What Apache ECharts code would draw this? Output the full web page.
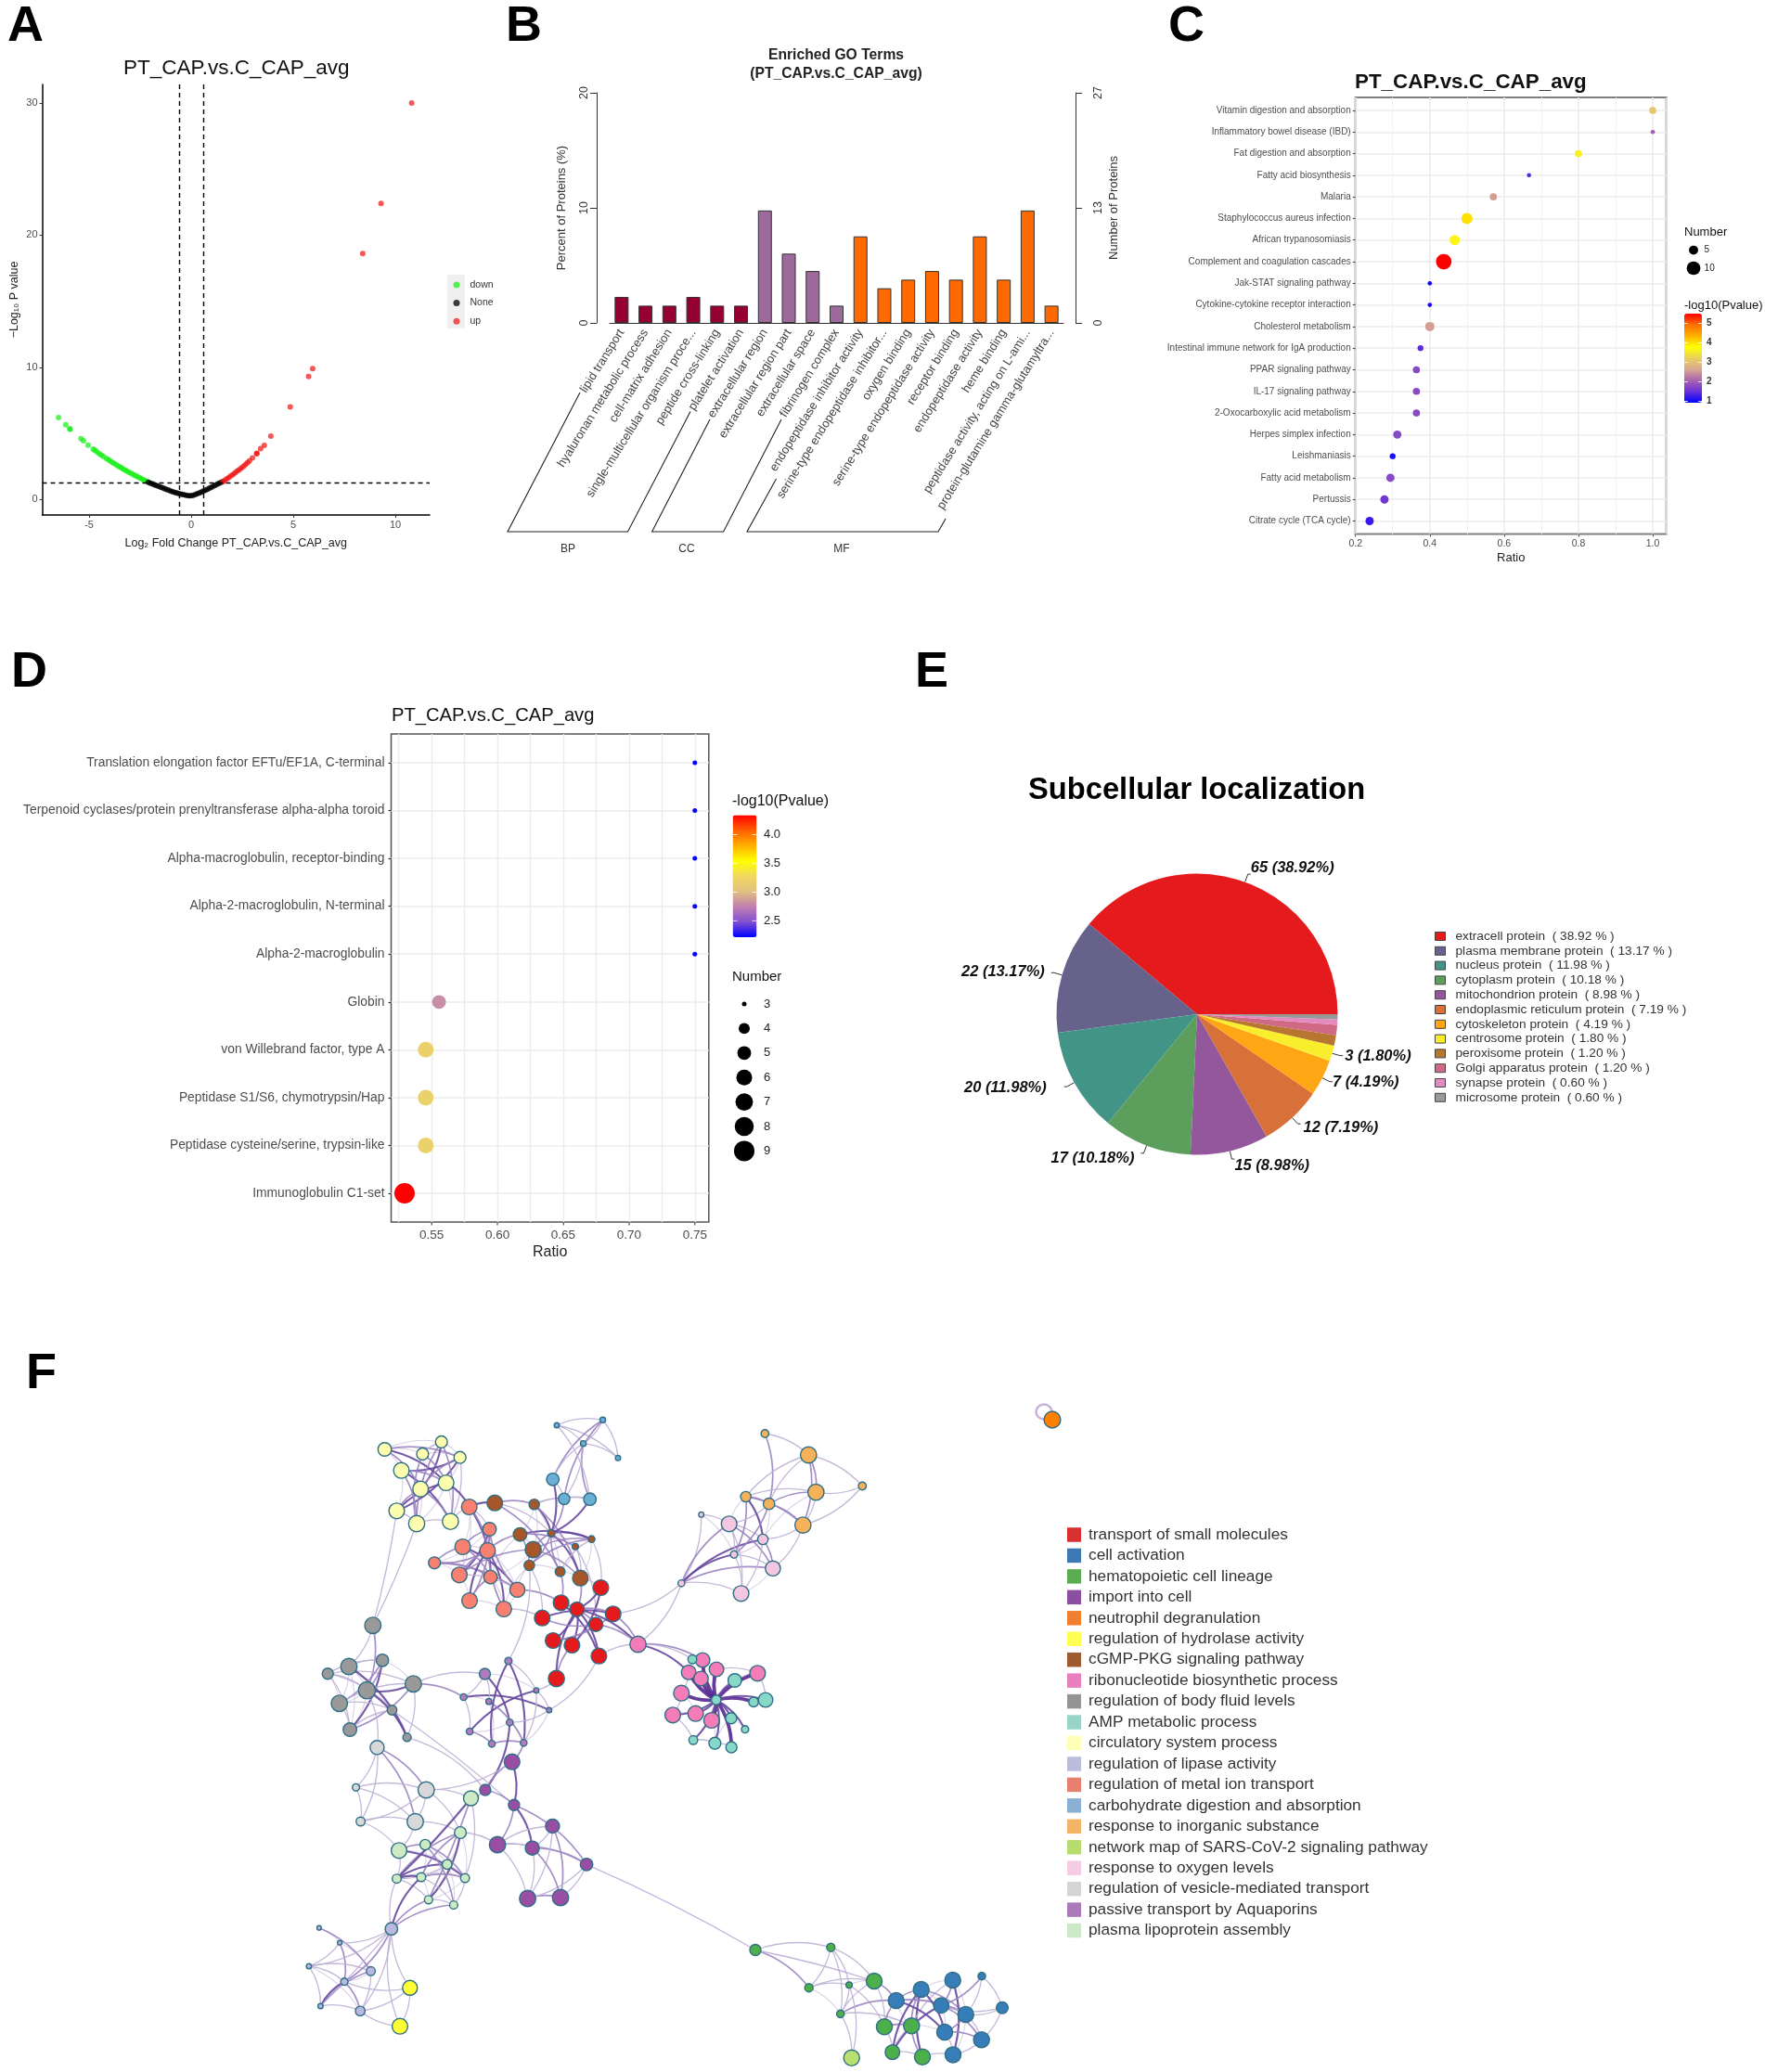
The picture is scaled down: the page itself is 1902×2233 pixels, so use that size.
<!DOCTYPE html>
<html><head><meta charset="utf-8">
<style>html,body{margin:0;padding:0;background:#fff;overflow:hidden}#c{width:1902px;height:2233px}</style>
<script src="https://cdn.jsdelivr.net/npm/echarts@6/dist/echarts.min.js"></script>
</head><body><div id="c"></div>
<script>
// ---------- Panel A: volcano
const volcanoDown=[[-6.5,6.2],[-6.15,5.65],[-5.95,5.35],[-5.93,5.3],[-5.4,4.6],[-5.28,4.45],[-5.05,4.12],[-4.8,3.82],[-4.72,3.72],[-4.62,3.6],[-4.5,3.47],[-4.4,3.35],[-4.3,3.25],[-4.15,3.1],[-4.05,3.0],[-3.95,2.9],[-3.85,2.8],[-3.75,2.7],[-3.65,2.6],[-3.55,2.5],[-3.45,2.42],[-3.35,2.33],[-3.25,2.24],[-3.15,2.15],[-3.05,2.06],[-2.95,1.98],[-2.85,1.9],[-2.75,1.82],[-2.65,1.74],[-2.55,1.66],[-2.45,1.58],[-2.35,1.5],[-2.25,1.42],[-2.15,1.35]];
const volcanoNone=[[-2.1,1.3],[-2.0,1.24],[-1.9,1.18],[-1.8,1.12],[-1.7,1.06],[-1.6,1.0],[-1.5,.94],[-1.4,.88],[-1.3,.82],[-1.2,.76],[-1.1,.7],[-1.0,.64],[-.9,.59],[-.8,.54],[-.7,.49],[-.6,.45],[-.5,.41],[-.4,.37],[-.3,.34],[-.2,.31],[-.1,.29],[0,.28],[.1,.32],[.2,.38],[.3,.44],[.4,.5],[.5,.56],[.6,.63],[.7,.7],[.8,.78],[.9,.86],[1,.94],[1.1,1.02],[1.2,1.1],[1.3,1.18],[1.4,1.26],[1.5,1.32]];
const volcanoUp=[[1.55,1.36],[1.65,1.46],[1.75,1.57],[1.85,1.68],[1.95,1.79],[2.05,1.9],[2.15,2.02],[2.25,2.14],[2.35,2.26],[2.45,2.38],[2.55,2.5],[2.65,2.64],[2.75,2.78],[2.85,2.92],[3.0,3.15],[3.2,3.47],[3.22,3.5],[3.4,3.85],[3.58,4.1],[3.9,4.8],[4.85,7.0],[5.75,9.3],[5.95,9.9],[8.4,18.6],[9.3,22.4],[10.8,30]];
// ---------- Panel B: GO bars
const goTerms=['lipid transport','hyaluronan metabolic process','cell-matrix adhesion','single-multicellular organism proce...','peptide cross-linking','platelet activation','extracellular region','extracellular region part','extracellular space','fibrinogen complex','endopeptidase inhibitor activity','serine-type endopeptidase inhibitor...','oxygen binding','serine-type endopeptidase activity','receptor binding','endopeptidase activity','heme binding','peptidase activity, acting on L-ami...','protein-glutamine gamma-glutamyltra...'];
const goPercent=[2.26,1.5,1.5,2.26,1.5,1.5,9.77,6.02,4.51,1.5,7.52,3.01,3.76,4.51,3.76,7.52,3.76,9.77,1.5];
const goGroup=['BP','BP','BP','BP','BP','BP','CC','CC','CC','CC','MF','MF','MF','MF','MF','MF','MF','MF','MF'];
// ---------- Panel C: KEGG bubbles
const keggNames=['Vitamin digestion and absorption','Inflammatory bowel disease (IBD)','Fat digestion and absorption','Fatty acid biosynthesis','Malaria','Staphylococcus aureus infection','African trypanosomiasis','Complement and coagulation cascades','Jak-STAT signaling pathway','Cytokine-cytokine receptor interaction','Cholesterol metabolism','Intestinal immune network for IgA production','PPAR signaling pathway','IL-17 signaling pathway','2-Oxocarboxylic acid metabolism','Herpes simplex infection','Leishmaniasis','Fatty acid metabolism','Pertussis','Citrate cycle (TCA cycle)'];
const keggRatio=[1,1,.8,.667,.571,.5,.467,.4375,.4,.4,.4,.375,.364,.364,.364,.3125,.3,.294,.278,.238];
const keggNumber=[4,2,4,2,4,8,7,14,2,2,6,3,4,4,4,5,3,5,5,5];
const keggLogP=[3.05,2.0,3.6,1.4,2.55,4.0,3.65,5.5,1.0,1.0,2.55,1.4,1.75,1.75,1.75,1.75,1.05,1.75,1.55,1.2];
// ---------- Panel D: domain bubbles
const domainNames=['Translation elongation factor EFTu/EF1A, C-terminal','Terpenoid cyclases/protein prenyltransferase alpha-alpha toroid','Alpha-macroglobulin, receptor-binding','Alpha-2-macroglobulin, N-terminal','Alpha-2-macroglobulin','Globin','von Willebrand factor, type A','Peptidase S1/S6, chymotrypsin/Hap','Peptidase cysteine/serine, trypsin-like','Immunoglobulin C1-set'];
const domainRatio=[.75,.75,.75,.75,.75,.5556,.5455,.5455,.5455,.5294];
const domainNumber=[3,3,3,3,3,5,6,6,6,9];
const domainLogP=[2.22,2.22,2.22,2.22,2.22,2.8,3.2,3.2,3.2,4.34];
// ---------- Panel E: pie
const locNames=['extracell protein','plasma membrane protein','nucleus protein','cytoplasm protein','mitochondrion protein','endoplasmic reticulum protein','cytoskeleton protein','centrosome protein','peroxisome protein','Golgi apparatus protein','synapse protein','microsome protein'];
const locCount=[65,22,20,17,15,12,7,3,2,2,1,1];
const locPercent=['38.92','13.17','11.98','10.18','8.98','7.19','4.19','1.80','1.20','1.20','0.60','0.60'];
const locColors=['#e41a1c','#66628c','#419486','#5c9e5c','#93589c','#d8703a','#ffa615','#f8ee2e','#b87730','#d06a84','#e58ac0','#999999'];
// ---------- Panel F: network (x, y, diameter)
const termNames=['transport of small molecules','cell activation','hematopoietic cell lineage','import into cell','neutrophil degranulation','regulation of hydrolase activity','cGMP-PKG signaling pathway','ribonucleotide biosynthetic process','regulation of body fluid levels','AMP metabolic process','circulatory system process','regulation of lipase activity','regulation of metal ion transport','carbohydrate digestion and absorption','response to inorganic substance','network map of SARS-CoV-2 signaling pathway','response to oxygen levels','regulation of vesicle-mediated transport','passive transport by Aquaporins','plasma lipoprotein assembly'];
const termNodeColors=['#e41a1c','#377eb8','#4daf4a','#984ea3','#ff7f00','#ffff33','#a65628','#f47cb8','#999999','#88d8c8','#fdfdb0','#b8b8e0','#f88070','#6baed6','#f6b25a','#b8e070','#f4c6e0','#d8d8d8','#b07cc0','#ccebc5'];
const termSwatchColors=['#d83030','#3d7ab5','#5aad50','#8a4fa0','#f08030','#ffff55','#a05a30','#e880c0','#949494','#98d4c8','#ffffb8','#bcbcdc','#e88070','#8ab0d4','#f4b468','#b8dc70','#f4cce4','#d4d4d4','#ac7ab8','#cce8c8'];
const nodesR=[[647.5,1711,15],[604.6,1727.3,15],[621.8,1734.3,14],[660.7,1739.3,15],[584.3,1743.7,15],[642.1,1750.7,13.5],[596,1768,15],[616.4,1773,15],[645.4,1784.7,15],[599.6,1809,15.5]];
const nodesE=[[965.7,2156,15.3],[992.7,2144,15.3],[1026.7,2134,15.3],[1058,2129.7,7.3],[1014.3,2161.3,14.7],[1040.7,2171,15.3],[1080,2163.7,11.3],[1018,2190,15.3],[1057.7,2198.2,15.3],[1027,2214.4,15.3]];
const nodesH=[[814,2101.5,10.7],[895.3,2098.7,8],[871.7,2142.2,8],[915,2139.3,6],[942,2135,15.3],[905.7,2170.4,7.3],[953,2184.3,15.3],[982.3,2183.3,15.3],[961.7,2211.6,14],[994,2216.8,15.3]];
const nodesI=[[551.8,1898.7,15],[522.9,1929,10.7],[553.9,1945.3,10.7],[595.4,1968,13.5],[536.1,1988,15.7],[573.6,1991.7,13.5],[632.1,2009.3,12],[568.6,2046,15.7],[604,2045,15.7]];
const nodesU=[[1134,1530,16]];
const nodesW=[[441.8,2142.3,14.3],[431,2183.7,15]];
const nodesB=[[533.2,1619.7,15],[575.7,1621.3,10],[560.4,1653.7,13],[594,1652.3,7],[637.5,1658.7,6.5],[574.6,1670,15.5],[620,1666.7,6],[570.4,1687,10],[603.6,1693.7,9.5],[625.4,1700.7,15]];
const nodesP=[[687.5,1772,15.5],[757.1,1789,14],[742.1,1802.3,14],[772.1,1799,14],[755.4,1809,14],[816.4,1803.3,15],[734.3,1824.7,15],[725,1848.3,15],[749.6,1846.7,15],[766.8,1854,15]];
const nodesG=[[401.8,1751.7,15.7],[353.2,1803.7,10.7],[376,1796,15.7],[412.1,1789.3,12],[445.4,1814.7,15.7],[395.4,1821.7,16.4],[365.7,1835.7,15.7],[422.5,1843,9.3],[377.1,1864,13],[438.6,1872.3,8]];
const nodesT=[[746.1,1788.3,8.5],[791.8,1811,13],[771.8,1832,9.3],[812.1,1834.3,9.3],[825,1832,14],[787.9,1851.7,10.7],[802.9,1863.7,7],[747.1,1875.3,8.5],[770.4,1878.7,11.5],[788.2,1883,10.7]];
const nodesY=[[414.6,1562,13],[475.7,1554,11.5],[455.4,1567,11.5],[495.7,1570.7,11.5],[432.5,1584.7,15],[480.7,1598,15],[453.2,1604.7,15],[427.5,1628.3,15],[449,1642,15.5],[485.4,1639.7,15.5]];
const nodesL=[[421.8,2078.7,12],[343.9,2077.7,4.3],[366.1,2093.7,4.3],[332.9,2119,5],[399.6,2124.3,8.6],[371.1,2135.7,7],[345.4,2162,5],[388.2,2167.3,9.3]];
const nodesM=[[505.7,1624,15],[527.5,1648,13],[498.6,1667,15],[525.4,1671,15],[468.2,1684.3,11.5],[495,1697.3,15],[528.6,1699.7,13],[557.5,1713.3,14.5],[506,1725,15],[542.9,1734,15]];
const nodesC=[[600,1536,5],[649.6,1530.3,5.5],[628.6,1555.7,5.5],[666,1571.3,5],[595.7,1594.3,12],[607.9,1615.3,11],[635.7,1615.7,12]];
const nodesN=[[824.3,1545,7.5],[871.3,1568,15.5],[929.3,1601.5,7.5],[879.3,1608.2,15.5],[803.7,1613,10],[828.7,1620.7,11],[865.3,1643.6,15.5]];
const nodesS=[[917.7,2217.8,15.3]];
const nodesO=[[755.7,1632.3,5],[785.7,1642.3,15],[822.1,1659,10],[791,1675.3,7],[832.9,1690.3,14.5],[734.3,1706.3,6.5],[798.6,1717.3,15]];
const nodesV=[[406.4,1883.3,13.5],[383.6,1926.3,7],[459.3,1929,15.7],[388.6,1963,8.6],[447.5,1963.3,15.7]];
const nodesA=[[547.9,1790,7],[522.5,1804,10.7],[577.9,1821.7,5],[499.6,1829,6.5],[526.8,1833.7,5.7],[591.8,1843,5],[549.3,1856.3,6.5],[506.1,1866,6.5],[530,1879.3,6.5],[564.3,1878.3,6.5]];
const nodesK=[[507.5,1938,14.3],[496.1,1975,11.4],[430,1994.3,15],[458.2,1988,10],[481.8,2009.3,9.3],[427.5,2024.7,8.6],[453.9,2023,8.6],[501.1,2024,8.6],[461.8,2047.3,7.9],[488.9,2053,7.9]];
const termNodes=[['R',nodesR],['E',nodesE],['H',nodesH],['I',nodesI],['U',nodesU],['W',nodesW],['B',nodesB],['P',nodesP],['G',nodesG],['T',nodesT],['Y',nodesY],['L',nodesL],['M',nodesM],['C',nodesC],['N',nodesN],['S',nodesS],['O',nodesO],['V',nodesV],['A',nodesA],['K',nodesK]];
// edges: from to weight(0-4)
const edgesY='Y0 Y5 3,Y0 Y3 2,Y1 Y6 3,Y2 Y5 2,Y3 Y4 3,Y3 Y7 3,Y4 Y9 3,Y4 Y5 2,Y7 Y5 3,Y6 Y3 2,Y8 Y2 2,Y8 Y1 2,Y1 Y9 2,Y6 Y9 2,Y0 Y6 2,Y8 Y9 1,Y3 Y9 1,Y4 Y8 2,Y7 Y8 1,Y7 Y6 2,Y2 Y1 1,Y5 M0 3,Y8 G0 1,Y7 G0 1,Y9 M0 1';
const edgesM='M0 M6 3,M1 M5 3,M1 M8 2,M2 M7 3,M2 M6 2,M3 M9 3,M3 M4 2,M4 M6 2,M4 M7 2,M5 M3 2,M0 M3 2,M8 M3 3,M8 M6 2,M9 M1 2,M2 M1 2,M7 M1 2,M4 M2 2,M5 M7 1,M0 M1 1,M0 B0 3,M3 B2 2,M5 B5 2,M7 R1 2,M9 R4 1';
const edgesB='B0 B1 2,B1 B3 3,B3 B4 3,B2 B4 3,B5 B4 2,B0 B8 2,B1 B9 2,B3 B9 3,B2 B6 2,B7 B4 2,B3 B7 2,B8 B3 2,B6 B9 1,B5 B3 2,B2 B7 2,B5 B9 2,B0 B3 1,B8 B4 1,B9 R2 2,B8 R1 2,B9 R0 1,B7 R4 1,B6 R5 1,B4 R0 1,B7 A0 1,B1 C5 1,B1 C6 1';
const edgesC='C0 C1 1,C0 C2 1,C1 C2 1,C0 C3 1,C1 C3 1,C2 C3 1,C4 C1 2,C5 C1 2,C6 C2 2,C0 C6 1,C4 C2 1,C2 C5 1,C4 C5 1,C5 C6 1,C4 B3 3,C6 B3 3,C5 B3 2';
const edgesR='R4 R3 3,R0 R7 3,R1 R8 3,R2 R7 3,R2 R6 3,R9 R2 3,R5 R6 2,R5 R4 2,R3 R6 2,R2 R8 3,R1 R5 2,R0 R2 3,R2 R3 2,R9 R7 2,R3 P0 2,R2 P0 3,R5 P0 2,R8 P0 1,R9 A2 1,R8 A5 1,O5 R3 1,O5 P0 1';
const edgesP='P0 P1 2,P0 P2 3,T2 P1 4,T2 P2 4,T2 P3 4,T2 P4 4,T2 P5 4,T2 P6 4,T2 P7 3,T2 P8 3,T2 P9 4,T2 T1 3,T2 T3 4,T2 T4 3,T2 T5 3,T2 T6 3,T2 T7 3,T2 T8 3,T2 T9 4,P5 T4 1,P2 P6 1,P7 T7 1,T7 T8 1,P6 P7 1,P3 P5 1,T0 P1 1,T8 T9 1,P0 T0 1';
const edgesO='O0 O1 1,O0 O5 1,O5 O2 3,O5 O3 3,O5 O1 2,O5 O4 2,O5 O6 1,O1 O2 1,O1 O4 2,O2 O4 2,O3 O6 1,O1 O6 1,O2 O6 1,O3 O4 1,O1 O3 1,N4 O3 2,N5 O1 1,N6 O2 1,N4 O2 3,N5 O3 2,N6 O4 1';
const edgesN='N0 N1 1,N0 N5 2,N1 N2 1,N1 N3 2,N1 N6 2,N2 N3 1,N2 N6 1,N4 N5 2,N4 N3 1,N5 N3 2,N4 N6 2,N5 N6 2,N4 N1 1,N5 N1 1,N3 N6 1';
const edgesG='G0 G5 2,G0 G2 1,G1 G5 1,G1 G7 1,G1 G4 1,G2 G9 3,G3 G6 2,G3 G8 3,G4 G5 3,G4 G8 2,G6 G7 1,G1 G3 1,G2 G3 1,G6 G4 1,G5 G9 3,G8 G7 1,G4 G9 1,G3 G5 2,G1 G8 1,G6 G8 1,G4 A3 2,G4 A1 1,G9 I1 1,G7 I2 1,G5 V0 1';
const edgesA='A3 A5 3,A7 A2 3,A0 A9 3,A1 A6 3,A4 A9 2,A8 A0 3,A3 A7 1,A7 A8 2,A8 A9 2,A1 A4 1,A1 A3 1,A0 A2 1,A2 A5 1,A5 A6 1,A2 A9 1,A6 I1 3,A9 I0 2';
const edgesI='I0 I2 3,I1 I2 2,I2 I5 3,I2 I6 2,I2 I4 2,I4 I3 1,I4 I5 1,I4 I6 1,I4 I7 1,I3 I5 1,I3 I8 2,I5 I6 2,I5 I7 1,I7 I8 2,I6 I8 1,I6 I7 1,I3 I7 1,I5 I8 2,I1 I0 2,I0 V2 1,I1 K0 1,I6 H0 1,K1 I4 1';
const edgesV='V0 V1 1,V0 V2 2,V0 V3 1,V0 V4 2,V1 V2 1,V1 V3 1,V2 V3 1,V2 V4 1,V3 V4 1,V1 V4 1,V2 K0 1,V4 K1 1,V2 K1 1,V3 K2 1,V4 K2 1';
const edgesK='K2 K7 3,K2 K3 2,K5 K4 3,K5 K1 2,K6 K1 2,K0 K5 3,K0 K8 2,K1 K8 3,K3 K9 2,K4 K5 1,K6 K7 2,K3 K7 2,K8 K9 1,K7 K9 1,K2 K5 1,K5 K8 1,K0 K7 1,K6 K9 1,K5 K6 3,L0 K6 3,L0 K9 2,L0 K8 2,L0 K5 1';
const edgesL='L1 L4 2,L2 L5 2,L3 L4 1,L3 L5 1,L3 L6 1,L6 L4 2,L6 L5 3,L6 L7 1,L0 L3 1,L0 L2 1,L0 L5 2,L0 L7 1,L0 L6 1,L2 L3 1,L4 L7 1,L5 L7 2,W0 L0 1,W1 L0 1,W0 L5 1,W0 L7 1,W1 L7 1,W0 W1 1';
const edgesH='H0 H1 1,H0 H2 2,H0 H4 1,H1 H2 1,H1 H3 1,H1 H4 1,H1 H5 1,H2 H3 1,H2 H4 1,H3 H5 1,H3 H6 1,H5 H4 1,H5 E0 2,H5 H7 1,H5 S0 1,H3 S0 1,H4 H6 1,H4 E0 2,H6 H7 2,H6 H8 1,H6 E0 2,H8 H7 1,H8 E1 3,H9 E1 3,H9 H7 2,H8 H9 1,H9 E9 1,H7 E1 2,H7 E2 1,H8 E4 3';
const edgesE='E0 E7 3,E0 E5 2,E0 E1 2,E1 E7 3,E1 E5 2,E2 E9 3,E2 E4 2,E3 E4 2,E3 E6 1,E3 E5 1,E4 E5 2,E4 E8 2,E5 E7 2,E5 E8 1,E6 E8 1,E6 E5 1,E6 E4 1,E7 E8 2,E8 E9 1,E7 E9 1';
const edgesFaint='Y0 Y1 0,Y0 Y2 0,Y0 Y4 0,Y1 Y3 0,Y2 Y3 0,Y2 Y6 0,Y4 Y6 0,Y5 Y9 0,Y5 Y8 0,Y3 Y5 0,Y6 Y8 0,Y4 Y7 0,M0 M2 0,M0 M5 0,M1 M3 0,M1 M4 0,M2 M3 0,M2 M5 0,M3 M6 0,M4 M5 0,M5 M8 0,M6 M7 0,M6 M9 0,M7 M9 0,M8 M9 0,M3 M7 0,B1 B2 0,B1 B5 0,B2 B5 0,B3 B6 0,B4 B6 0,B6 B8 0,B8 B9 0,B7 B8 0,B5 B7 0,B4 B9 0,B1 B8 0,M7 B7 0,M9 B7 0,M6 B2 0,B5 M6 0,G1 G2 0,G1 G6 0,G2 G5 0,G2 G6 0,G5 G6 0,G5 G8 0,G3 G4 0,G7 G9 0,G5 G7 0,G2 G8 0,K2 K4 0,K3 K4 0,K3 K6 0,K4 K6 0,K4 K7 0,K5 K7 0,K6 K8 0,K4 K9 0,K7 K8 0,K1 K4 0,K1 K7 0,O0 O3 0,O2 O3 0,O4 O6 0,O1 N4 0,O2 N3 0,N5 O2 0,A1 A2 0,A3 A4 0,A4 A6 0,A6 A7 0,A6 A9 0,A5 A9 0,A4 A8 0,P1 P3 0,P2 P4 0,P3 P4 0,P6 P8 0,P7 P8 0,P8 P9 0,T1 P5 0,T3 T4 0,T5 T6 0,T8 T5 0,P9 T8 0,L1 L2 0,L3 L7 0,L4 L5 0,L2 L4 0,E1 E2 0,E1 E4 0,E2 E5 0,E4 E7 0,E5 E9 0,E8 E2 0,E0 E4 0,H7 E0 0,H6 E7 0,H2 H5 0,H3 H4 0';
const allEdges=[edgesFaint,edgesY,edgesM,edgesB,edgesC,edgesR,edgesP,edgesO,edgesN,edgesG,edgesA,edgesI,edgesV,edgesK,edgesL,edgesH,edgesE];

// ---------- build
const FF='"Liberation Sans"';
const grayTxt='#4d4d4d';
const edgeColor=['#d5cde6','#bcb0d4','#9a84c0','#67499f','#54278f'];
const edgeWidth=[1.1,1.3,1.7,2.1,3.8];
const sizeC=n=>5.2*Math.sqrt(n)-2.7;
const sizeD=n=>17*Math.sqrt((n-3)/6)+5;
const pieLabelNudge=[[-4,-7],[-3,-1],[-15,1],[-3,6],[-4,7],[-1,4],[-4,1],[-2,1]];
const graphNodes=[];const nodeXY={};
termNodes.forEach(([p,list],c)=>list.forEach((v,i)=>{nodeXY[p+i]=v;graphNodes.push({name:p+i,value:[v[0],v[1]],category:c,symbolSize:v[2]*1.12});}));
const graphLinks=[];
allEdges.forEach(s=>s.split(',').forEach(e=>{const [a,b,w]=e.split(' ');const d=Math.hypot(nodeXY[a][0]-nodeXY[b][0],nodeXY[a][1]-nodeXY[b][1]);graphLinks.push({source:a,target:b,lineStyle:{color:edgeColor[+w],width:edgeWidth[+w],curveness:d>110?.03:.16}});}));

const gfx=[];
const T=(text,x,y,size,o={})=>gfx.push({type:'text',x,y,z:o.z||5,rotation:o.rot||0,style:{text,fill:o.fill||'#000',font:`${o.weight||'normal'} ${size}px ${FF}`,textAlign:o.align||'left',textVerticalAlign:'middle'}});
const PL=pts=>gfx.push({type:'polyline',shape:{points:pts},style:{stroke:'#222',lineWidth:1.1,fill:null}});
const DOT=(cx,cy,d)=>gfx.push({type:'circle',shape:{cx,cy,r:d/2},style:{fill:'#000'}});
// panel letters
[['A',8,29],['B',545,29],['C',1259,29],['D',12,725],['E',986,725],['F',28,1481]].forEach(a=>T(a[0],a[1],a[2],54,{weight:'bold'}));
// A legend box
gfx.push({type:'rect',shape:{x:482,y:296,width:19,height:58},style:{fill:'#f0f0f0'},z:0});
// B titles & brackets
T('Enriched GO Terms',901,60,15.7,{weight:'bold',align:'center',fill:'#222'});
T('(PT_CAP.vs.C_CAP_avg)',901,79.5,15.7,{weight:'bold',align:'center',fill:'#222'});
PL([[625,423],[547,573],[676.5,573],[744,443.5]]);
PL([[765,452],[702.6,573],[779.6,573],[842,452]]);
PL([[836.5,516],[805,573],[1011,573],[1019,559]]);
T('BP',612,592,12,{align:'center',fill:'#333'});T('CC',740,592,12,{align:'center',fill:'#333'});T('MF',907,592,12,{align:'center',fill:'#333'});
// C legend
T('Number',1815,250.6,13,{fill:'#111'});
[[5,269.6],[10,289]].forEach(([n,y])=>{DOT(1825,y,sizeC(n)+1);T(String(n),1836.6,y,10,{fill:'#222'});});
T('-log10(Pvalue)',1815,329,13,{fill:'#111'});
[[5,348.6],[4,369.6],[3,390.5],[2,411.5],[1,432.4]].forEach(([n,y])=>{T(String(n),1839,y,10,{weight:'bold',fill:'#333'});
 gfx.push({type:'rect',shape:{x:1815,y:y-.4,width:4,height:.8},style:{fill:'#fff'},z:10});gfx.push({type:'rect',shape:{x:1830,y:y-.4,width:4,height:.8},style:{fill:'#fff'},z:10});});
// D ticks on the ratio axis and legend
[465.2,536,607.3,678,748.8].forEach(x=>gfx.push({type:'rect',shape:{x:x-.5,y:1317.5,width:1,height:3},style:{fill:'#333'}}));
T('-log10(Pvalue)',789,863.5,16,{fill:'#111'});
[['4.0',899.5],['3.5',930.7],['3.0',961.5],['2.5',992.3]].forEach(([n,y])=>{T(n,823,y,13,{fill:'#222'});
 gfx.push({type:'rect',shape:{x:789.6,y:y-.4,width:5,height:.8},style:{fill:'#fff'},z:10});gfx.push({type:'rect',shape:{x:810.4,y:y-.4,width:5,height:.8},style:{fill:'#fff'},z:10});});
T('Number',789,1052.5,15,{fill:'#111'});
[3,4,5,6,7,8,9].forEach((n,i)=>{const y=1082+i*26.4;DOT(802,y,sizeD(n));T(String(n),823,y,13,{fill:'#222'});});
// F self loop
gfx.push({type:'ellipse',shape:{cx:1125,cy:1521.5,rx:8.5,ry:8},style:{stroke:'#c8b4d8',lineWidth:2.6,fill:null},z:0});

const option={
 animation:false,backgroundColor:'#fff',textStyle:{fontFamily:FF},
 title:[
  {text:'PT_CAP.vs.C_CAP_avg',left:133,top:62,padding:0,textStyle:{fontSize:22.5,fontWeight:'normal',color:'#111',fontFamily:FF}},
  {text:'PT_CAP.vs.C_CAP_avg',left:1460,top:78,padding:0,textStyle:{fontSize:22.4,fontWeight:'bold',color:'#111',fontFamily:FF}},
  {text:'PT_CAP.vs.C_CAP_avg',left:422,top:761,padding:0,textStyle:{fontSize:20.2,fontWeight:'normal',color:'#111',fontFamily:FF}},
  {text:'Subcellular localization',left:1108,top:835,padding:0,textStyle:{fontSize:32.7,fontWeight:'bold',color:'#000',fontFamily:FF}}
 ],
 grid:[
  {left:45.5,top:91,width:417.5,height:464},
  {left:657,top:100,width:489,height:248},
  {left:1460.7,top:105,width:335,height:470.5,show:true,borderColor:'#7f7f7f',borderWidth:2,backgroundColor:'#fff'},
  {left:421.5,top:791,width:342.3,height:526,show:true,borderColor:'#555',borderWidth:1.5,backgroundColor:'#fff'},
  {left:0,top:0,width:1902,height:2233}
 ],
 xAxis:[
  {gridIndex:0,type:'value',min:-7.3,max:11.68,splitLine:{show:false},axisLine:{onZero:false,lineStyle:{color:'#000',width:1.5}},axisTick:{length:3,customValues:[-5,0,5,10],lineStyle:{color:'#333'}},axisLabel:{customValues:[-5,0,5,10],fontSize:11,color:grayTxt,margin:5},name:'Log₂ Fold Change PT_CAP.vs.C_CAP_avg',nameLocation:'middle',nameGap:24,nameTextStyle:{fontSize:12.5,color:'#222'}},
  {gridIndex:1,type:'category',data:goTerms,axisLine:{onZero:false,lineStyle:{color:'#333'}},axisTick:{length:6,lineStyle:{color:'#333'}},axisLabel:{interval:0,rotate:58,fontSize:13,color:'#444',margin:8}},
  {gridIndex:2,type:'value',min:.2,max:1.0366,interval:.2,splitLine:{show:true,lineStyle:{color:'#ececec',width:1.6}},minorTick:{show:false,splitNumber:2},minorSplitLine:{show:true,lineStyle:{color:'#f3f3f3',width:1}},axisLine:{show:false,onZero:false},axisTick:{length:3,lineStyle:{color:'#555'}},axisLabel:{showMaxLabel:false,formatter:v=>v.toFixed(1),fontSize:10.5,color:grayTxt,margin:5},name:'Ratio',nameLocation:'middle',nameGap:19,nameTextStyle:{fontSize:13,color:'#222'}},
  {gridIndex:3,type:'value',min:.5192,max:.7606,splitLine:{show:true,lineStyle:{color:'#ececec',width:1.4}},axisLine:{show:false,onZero:false},axisTick:{show:false,customValues:[.525,.55,.575,.6,.625,.65,.675,.7,.725,.75]},axisLabel:{customValues:[.55,.6,.65,.7,.75],formatter:v=>v.toFixed(2),fontSize:13.5,color:grayTxt,margin:7},name:'Ratio',nameLocation:'middle',nameGap:25,nameTextStyle:{fontSize:16,color:'#222'}},
  {gridIndex:4,type:'value',min:0,max:1902,show:false}
 ],
 yAxis:[
  {gridIndex:0,type:'value',min:-1.17,max:31.4,splitLine:{show:false},axisLine:{show:true,onZero:false,lineStyle:{color:'#000',width:1.5}},axisTick:{show:true,length:3,customValues:[0,10,20,30],lineStyle:{color:'#333'}},axisLabel:{customValues:[0,10,20,30],fontSize:11,color:grayTxt,margin:5},name:'−Log₁₀ P value',nameLocation:'middle',nameGap:23,nameTextStyle:{fontSize:12.5,color:'#222'}},
  {gridIndex:1,type:'value',min:0,max:20,interval:10,offset:14,splitLine:{show:false},axisLine:{show:true,lineStyle:{color:'#333'}},axisTick:{show:true,length:7,lineStyle:{color:'#333'}},axisLabel:{rotate:90,fontSize:12.5,color:'#333',margin:7},name:'Percent of Proteins (%)',nameLocation:'middle',nameGap:31,nameTextStyle:{fontSize:13,color:'#333'}},
  {gridIndex:1,type:'value',position:'right',min:0,max:27,offset:13,splitLine:{show:false},axisLine:{show:true,lineStyle:{color:'#333'}},axisTick:{show:true,length:7,customValues:[0,13.5,27],lineStyle:{color:'#333'}},axisLabel:{customValues:[0,13.5,27],formatter:v=>String(Math.floor(v)),rotate:90,fontSize:12.5,color:'#333',margin:18},name:'Number of Proteins',nameLocation:'middle',nameGap:35,nameRotate:90,nameTextStyle:{fontSize:13,color:'#333'}},
  {gridIndex:2,type:'value',inverse:true,min:-.6,max:19.6,splitLine:{show:true,lineStyle:{color:'#ececec',width:1.6}},axisLine:{show:false,onZero:false},axisTick:{show:true,length:3,customValues:keggNames.map((_,i)=>i),lineStyle:{color:'#555',width:1.2}},axisLabel:{customValues:keggNames.map((_,i)=>i),formatter:v=>keggNames[v]||'',fontSize:10,color:grayTxt,margin:5}},
  {gridIndex:3,type:'value',inverse:true,min:-.6,max:9.6,splitLine:{show:true,lineStyle:{color:'#ececec',width:1.6}},axisLine:{show:false,onZero:false},axisTick:{show:true,length:3,customValues:domainNames.map((_,i)=>i),lineStyle:{color:'#333',width:1.2}},axisLabel:{customValues:domainNames.map((_,i)=>i),formatter:v=>domainNames[v]||'',fontSize:13.85,color:grayTxt,margin:7}},
  {gridIndex:4,type:'value',inverse:true,min:0,max:2233,show:false}
 ],
 legend:[
  {data:['down','None','up'],left:488.5,top:301,orient:'vertical',padding:0,itemWidth:7,itemHeight:7,itemGap:7.6,icon:'circle',selectedMode:false,textStyle:{fontSize:10.5,color:'#333',lineHeight:12,padding:[0,0,0,6],fontFamily:FF}},
  {data:locNames,left:1546,top:1002,orient:'vertical',padding:0,itemWidth:11,itemHeight:9,itemGap:1.8,icon:'rect',selectedMode:false,itemStyle:{borderColor:'#444',borderWidth:1},formatter:n=>`${n}  ( ${locPercent[locNames.indexOf(n)]} % )`,textStyle:{fontSize:13.7,color:'#333',lineHeight:12,padding:[0,0,0,6],fontFamily:FF}},
  {data:termNames.map((n,i)=>({name:n,itemStyle:{color:termSwatchColors[i]}})),left:1150,top:1645.5,orient:'vertical',padding:0,itemWidth:15,itemHeight:15.5,itemGap:5.45,itemStyle:{borderWidth:0},icon:'rect',selectedMode:false,textStyle:{fontSize:17.27,color:'#333',lineHeight:16,padding:[0,0,0,3],fontFamily:FF}}
 ],
 visualMap:[
  {type:'continuous',seriesIndex:4,dimension:2,min:.9,max:5.5,left:1815,top:338,itemWidth:19,itemHeight:96,text:null,showLabel:false,calculable:false,hoverLink:false,padding:0,inRange:{color:['#0000ff','#6a30d8','#a864b0','#d8a890','#e8d060','#ffff00','#ffb000','#ff7000','#ff0000']}},
  {type:'continuous',seriesIndex:5,dimension:2,min:2.21,max:4.34,left:789.6,top:878.6,itemWidth:25.8,itemHeight:131.4,text:null,showLabel:false,calculable:false,hoverLink:false,padding:0,inRange:{color:['#0000ff','#8050d0','#c080b0','#e0c080','#f0d860','#ffff00','#ffb000','#ff6000','#ff0000']}}
 ],
 series:[
  {name:'down',type:'scatter',xAxisIndex:0,yAxisIndex:0,data:volcanoDown,symbolSize:6,itemStyle:{color:'#11ee11',opacity:.7}},
  {name:'None',type:'scatter',xAxisIndex:0,yAxisIndex:0,data:volcanoNone,symbolSize:6,itemStyle:{color:'#000',opacity:.75},
   markLine:{silent:true,symbol:'none',label:{show:false},lineStyle:{color:'#000',type:[5,4],width:1.4},data:[{xAxis:-.585},{xAxis:.585},{yAxis:1.3}]}},
  {name:'up',type:'scatter',xAxisIndex:0,yAxisIndex:0,data:volcanoUp,symbolSize:6,itemStyle:{color:'#ee1111',opacity:.7}},
  {name:'GO',type:'bar',xAxisIndex:1,yAxisIndex:1,barWidth:15,data:goPercent.map((v,i)=>({value:v,itemStyle:{color:{BP:'#960030',CC:'#9d6a9c',MF:'#ff6a00'}[goGroup[i]],borderColor:'#333',borderWidth:1}}))},
  {name:'KEGG',type:'scatter',xAxisIndex:2,yAxisIndex:3,data:keggRatio.map((r,i)=>[r,i,keggLogP[i],keggNumber[i]]),symbolSize:v=>sizeC(v[3]),itemStyle:{opacity:1}},
  {name:'Domain',type:'scatter',xAxisIndex:3,yAxisIndex:4,data:domainRatio.map((r,i)=>[r,i,domainLogP[i],domainNumber[i]]),symbolSize:v=>sizeD(v[3]),itemStyle:{opacity:1}},
  {name:'Subcellular',type:'pie',center:[1290,1093],radius:151.5,startAngle:0,clockwise:false,avoidLabelOverlap:false,
   data:locNames.map((n,i)=>({name:n,value:locCount[i],itemStyle:{color:locColors[i]},label:{show:i<8},labelLine:{show:i<8}})),
   label:{position:'outside',formatter:p=>`${p.value} (${locPercent[p.dataIndex]}%)`,fontSize:16.5,fontStyle:'italic',fontWeight:'bold',color:'#111',fontFamily:FF,distanceToLabelLine:4},
   labelLine:{length:9,length2:3,lineStyle:{color:'#333',width:1}},
   labelLayout:p=>{const n=pieLabelNudge[p.dataIndex];return n?{dx:n[0],dy:n[1]}:{};}},
  {name:'Network',type:'graph',coordinateSystem:'cartesian2d',xAxisIndex:4,yAxisIndex:5,layout:'none',roam:false,silent:true,
   categories:termNames.map((n,i)=>({name:n,itemStyle:{color:termNodeColors[i]}})),
   data:graphNodes,links:graphLinks,itemStyle:{borderColor:'#2f6f86',borderWidth:1.4},lineStyle:{opacity:.9},label:{show:false}}
 ],
 graphic:{elements:gfx}
};
const chart=echarts.init(document.getElementById('c'),null,{renderer:'canvas'});
chart.setOption(option);
</script></body></html>
